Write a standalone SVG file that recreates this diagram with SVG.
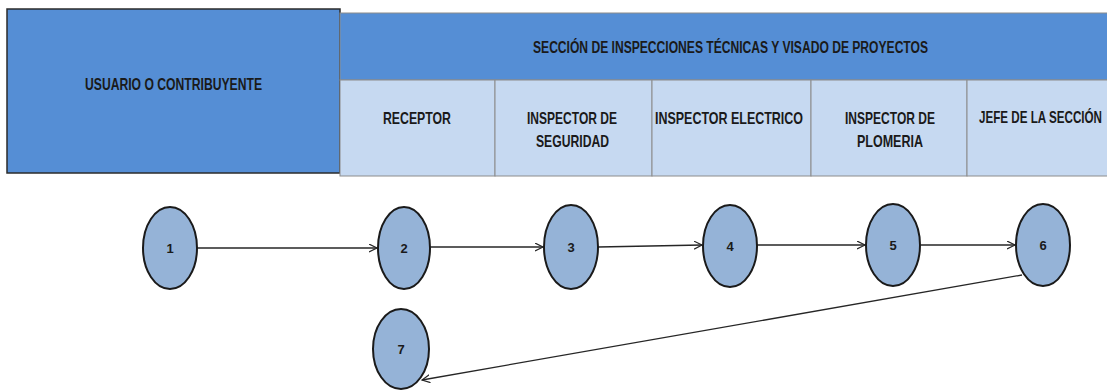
<svg xmlns="http://www.w3.org/2000/svg" width="1107" height="390" viewBox="0 0 1107 390">
<style>
.hdr{fill:#558ed5}
.cell{fill:#c6d9f1;stroke:#8c8c8c;stroke-width:1}
.lbl{font-family:"Liberation Sans",Arial,sans-serif;font-weight:bold;font-size:16.5px;fill:#1a1a1a}
.ttl{font-size:16px}
.num{font-family:"Liberation Sans",Arial,sans-serif;font-weight:bold;font-size:13px;fill:#1a1a1a;text-anchor:middle}
.node ellipse{fill:#95b3d7;stroke:#1a1a1a;stroke-width:2}
.conn line{stroke:#262626;stroke-width:1.3;fill:none}
</style>
<defs>
<marker id="arr" markerWidth="10" markerHeight="10" refX="8" refY="4" orient="auto" markerUnits="userSpaceOnUse">
<path d="M0,0 L8,4 L0,8" fill="none" stroke="#262626" stroke-width="1.2"/>
</marker>
</defs>
<rect width="1107" height="390" fill="#ffffff"/>
<g id="usuario">
<rect x="7" y="9" width="333" height="164" class="hdr" stroke="#2b2b2b" stroke-width="1.5"/>
<text class="lbl" x="85" y="90" textLength="177" lengthAdjust="spacingAndGlyphs">USUARIO O CONTRIBUYENTE</text>
</g>
<g id="seccion">
<rect x="340" y="13" width="767.5" height="67" class="hdr" stroke="#8c8c8c" stroke-width="1"/>
<text class="lbl ttl" x="533" y="53" textLength="395" lengthAdjust="spacingAndGlyphs">SECCIÓN DE INSPECCIONES TÉCNICAS Y VISADO DE PROYECTOS</text>
</g>
<g id="receptor">
<rect x="340" y="80" width="155" height="96" class="cell"/>
<text class="lbl" x="383" y="124" textLength="68" lengthAdjust="spacingAndGlyphs">RECEPTOR</text>
</g>
<g id="inspector-seguridad">
<rect x="495" y="80" width="157" height="96" class="cell"/>
<text class="lbl" x="527" y="124" textLength="90" lengthAdjust="spacingAndGlyphs">INSPECTOR DE</text>
<text class="lbl" x="536" y="147" textLength="73" lengthAdjust="spacingAndGlyphs">SEGURIDAD</text>
</g>
<g id="inspector-electrico">
<rect x="652" y="80" width="159" height="96" class="cell"/>
<text class="lbl" x="655" y="124" textLength="148" lengthAdjust="spacingAndGlyphs">INSPECTOR ELECTRICO</text>
</g>
<g id="inspector-plomeria">
<rect x="811" y="80" width="156" height="96" class="cell"/>
<text class="lbl" x="845" y="124" textLength="90" lengthAdjust="spacingAndGlyphs">INSPECTOR DE</text>
<text class="lbl" x="857" y="147" textLength="66" lengthAdjust="spacingAndGlyphs">PLOMERIA</text>
</g>
<g id="jefe">
<rect x="967" y="80" width="140.5" height="96" class="cell"/>
<text class="lbl" x="979" y="123" textLength="123" lengthAdjust="spacingAndGlyphs">JEFE DE LA SECCIÓN</text>
</g>
<g id="connectors" class="conn">
<line x1="197" y1="248" x2="377" y2="248" marker-end="url(#arr)"/>
<line x1="430" y1="247" x2="543" y2="247" marker-end="url(#arr)"/>
<line x1="598" y1="247" x2="702" y2="245" marker-end="url(#arr)"/>
<line x1="757" y1="245" x2="865" y2="245" marker-end="url(#arr)"/>
<line x1="921" y1="245" x2="1015" y2="245" marker-end="url(#arr)"/>
<line x1="1022" y1="275" x2="422" y2="380" marker-end="url(#arr)"/>
</g>
<g id="n1" class="node"><ellipse cx="170" cy="248" rx="27" ry="41"/><text class="num" x="170" y="253">1</text></g>
<g id="n2" class="node"><ellipse cx="404" cy="248" rx="26" ry="41"/><text class="num" x="404" y="253">2</text></g>
<g id="n3" class="node"><ellipse cx="571" cy="247" rx="27" ry="42"/><text class="num" x="571" y="252">3</text></g>
<g id="n4" class="node"><ellipse cx="730" cy="246" rx="27" ry="41"/><text class="num" x="730" y="251">4</text></g>
<g id="n5" class="node"><ellipse cx="893" cy="245" rx="27" ry="41"/><text class="num" x="893" y="250">5</text></g>
<g id="n6" class="node"><ellipse cx="1043" cy="245" rx="27" ry="41"/><text class="num" x="1043" y="250">6</text></g>
<g id="n7" class="node"><ellipse cx="401" cy="349" rx="28" ry="40"/><text class="num" x="401" y="354">7</text></g>
</svg>
